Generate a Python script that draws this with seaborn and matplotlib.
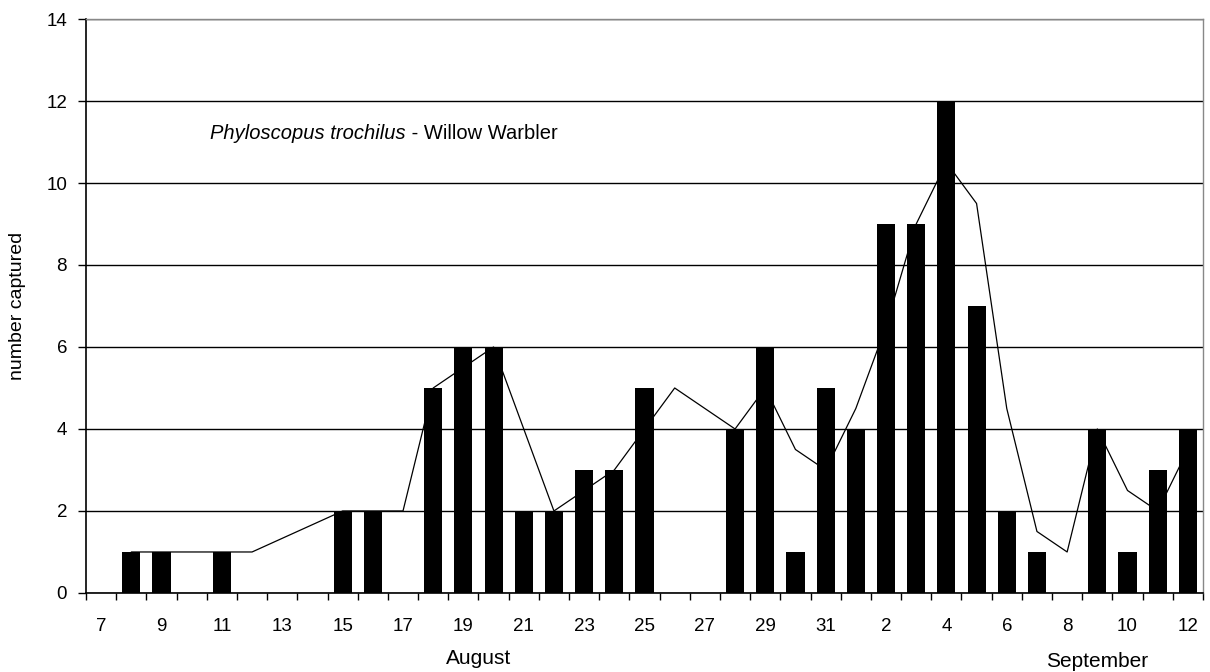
import matplotlib
matplotlib.use("Agg")
import matplotlib.pyplot as plt
import seaborn as sns
import numpy as np
import pandas as pd

# days from 7 August to 12 September
aug_days = list(range(7, 32))
sep_days = list(range(1, 13))
day_labels = ["Aug %d" % d for d in aug_days] + ["Sep %d" % d for d in sep_days]
day_numbers = aug_days + sep_days

# birds captured each day
captured = [0, 1, 1, 0, 1, 0, 0, 0, 2, 2, 0, 5, 6, 6, 2, 2, 3, 3, 5, 0, 0, 4, 6, 1, 5,
            4, 9, 9, 12, 7, 2, 1, 0, 4, 1, 3, 4]

# smoothed line (2-day mean), blank where no point was drawn
smoothed = [np.nan, 1, 1, 1, 1, 1, np.nan, np.nan, 2, 2, 2, 5, 5.5, 6, 4, 2, 2.5, 3, 4, 5,
            np.nan, 4, 5, 3.5, 3, 4.5, 6.5, 9, 10.5, 9.5, 4.5, 1.5, 1, 4, 2.5, 2, 3.5]

df = pd.DataFrame({"day": day_labels, "captured": captured})
pos = np.arange(len(day_labels))
line_df = pd.DataFrame({"pos": pos, "smoothed": smoothed}).dropna()

sns.set_style("white")
plt.rcParams["font.family"] = ["Liberation Sans", "DejaVu Sans"]
plt.rcParams["text.color"] = "black"
plt.rcParams["axes.labelcolor"] = "black"
plt.rcParams["xtick.color"] = "black"
plt.rcParams["ytick.color"] = "black"

fig = plt.figure(figsize=(12.1, 6.72), dpi=100)
ax = fig.add_axes([0.0711, 0.1176, 0.9231, 0.8541])

sns.barplot(data=df, x="day", y="captured", order=day_labels, color="black",
            width=0.6, linewidth=0, saturation=1, ax=ax, zorder=2)
sns.lineplot(data=line_df, x="pos", y="smoothed", color="black", linewidth=0.9, ax=ax, zorder=1.5)

ax.set_xlim(-0.5, len(day_labels) - 0.5)
ax.set_ylim(0, 14)
ax.set_yticks(range(0, 15, 2))
ax.yaxis.grid(True, color="black", linewidth=1.0)
ax.set_axisbelow(True)

ax.set_xticks(pos[::2])
ax.set_xticklabels([str(d) for d in day_numbers[::2]])
ax.set_xticks(np.arange(-0.5, len(day_labels), 1), minor=True)
ax.tick_params(axis="x", which="major", length=0, pad=18, labelsize=13.5, labelcolor="black")
ax.tick_params(axis="x", which="minor", length=5, width=1, color="black", direction="out", bottom=True)
ax.tick_params(axis="y", length=5.8, width=1, color="black", direction="out", left=True,
               labelsize=13.5, pad=7.9, labelcolor="black")

for s in ["left", "bottom"]:
    ax.spines[s].set_color("black")
    ax.spines[s].set_linewidth(1.2)
for s in ["top", "right"]:
    ax.spines[s].set_color("#888888")
    ax.spines[s].set_linewidth(1.0)

ax.set_xlabel("")
ax.set_ylabel("number captured", fontsize=14, color="black")
ax.yaxis.set_label_coords(-0.054, 0.5)

t1 = ax.text(3.62, 11.2, "Phyloscopus trochilus", fontsize=14.5, style="italic", va="center",
             color="black")
ax.annotate(" - Willow Warbler", xy=(1, 0.5), xycoords=t1, fontsize=14.5, va="center", color="black")

ax.text(12.52, -1.6, "August", fontsize=15, ha="center", va="center", color="black")
ax.text(32.99, -1.68, "September", fontsize=15, ha="center", va="center", color="black")

fig.savefig("out.png", dpi=100)
